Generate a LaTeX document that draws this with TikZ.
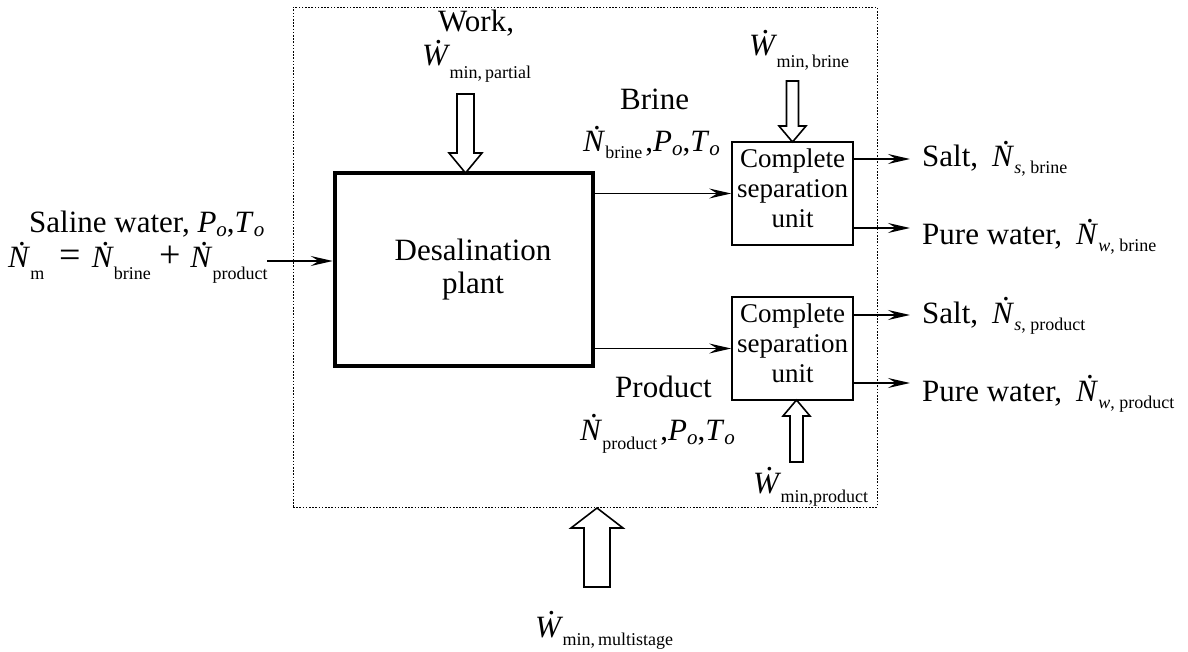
\documentclass[tikz,border=0pt]{standalone}
\usepackage{fontspec}
\setmainfont{Liberation Serif}
\usetikzlibrary{arrows.meta}
\newcommand{\ovd}[1]{{\setbox0\hbox{\itshape #1}\hbox{\rlap{\hbox to \wd0{\hss\hskip0.22em\raisebox{0.72em}{\upshape.}\hss}}\box0}}}
\newcommand{\sbs}[2][11pt]{\hskip1.5pt\raisebox{-#1}{\fontsize{18}{18}\selectfont #2}}
\newcommand{\sbo}{\raisebox{-4pt}{\fontsize{21}{21}\selectfont\itshape o}}
\newcommand{\bigop}[1]{{\fontsize{38}{38}\selectfont #1}}
\begin{document}
\begin{tikzpicture}[x=1pt,y=-1pt,
  font=\fontsize{31}{33}\selectfont,
  flow/.style={line width=1.7pt,-{Stealth[length=22pt,width=10pt,inset=8pt]}},
  blockarr/.style={draw,line width=1.6pt,fill=white,line join=miter},
  sepbox/.style={draw,line width=1.7pt,minimum width=121pt,minimum height=103pt,align=center,inner sep=0pt,font=\fontsize{27}{30}\selectfont},
  lbl/.style={anchor=base west,inner sep=0pt}]
\useasboundingbox (0,0) rectangle (1188,652);
% system boundary
\node[draw,line width=0.8pt,dash pattern=on 1.6pt off 1.6pt,minimum width=584pt,minimum height=500pt,inner sep=0pt] (sys) at (585,257) {};
% plant
\node[draw,line width=4.5pt,minimum width=258pt,minimum height=193pt,align=center] (plant) at (464,269.5) {\hspace*{18pt}Desalination\\\hspace*{18pt}plant};
% separation units
\node[sepbox] (sep1) at (792.5,193.5) {Complete\\separation\\unit\rule[-11pt]{0pt}{0pt}};
\node[sepbox] (sep2) at (792.5,348.5) {Complete\\separation\\unit\rule[-11pt]{0pt}{0pt}};
% flows
\coordinate (in) at (267,261);
\draw[flow] (in) -- (in -| plant.west);
\draw[flow] (plant.east |- sep1.west) -- (sep1.west);
\draw[flow] (plant.east |- sep2.west) -- (sep2.west);
\coordinate (o1) at (910,159);
\coordinate (o2) at (910,228);
\coordinate (o3) at (910,315);
\coordinate (o4) at (910,383);
\draw[flow] (sep1.east |- o1) -- (o1);
\draw[flow] (sep1.east |- o2) -- (o2);
\draw[flow] (sep2.east |- o3) -- (o3);
\draw[flow] (sep2.east |- o4) -- (o4);
% block arrows
\draw[blockarr] (457,94) -- (474,94) -- (474,153) -- (482,153) -- (465.5,173) -- (449,153) -- (457,153) -- cycle;
\draw[blockarr] (786.5,81) -- (798.5,81) -- (798.5,126) -- (806,126) -- (792.5,142) -- (779,126) -- (786.5,126) -- cycle;
\draw[blockarr] (790,462) -- (803,462) -- (803,416) -- (810,416) -- (796.5,400) -- (783,416) -- (790,416) -- cycle;
\draw[blockarr] (584,587) -- (610,587) -- (610,528) -- (623,528) -- (597,508) -- (571,528) -- (584,528) -- cycle;
% labels
\node[lbl] (t1) at (29,233) {Saline water, \textit{P}\sbo,\textit{T}\sbo};
\node[lbl] (t2) at (8,268) {\ovd{N}\sbs[12pt]{m}\hskip15pt\bigop{=}\hskip11pt\ovd{N}\sbs[12pt]{brine}\hskip9pt\bigop{+}\hskip9pt\ovd{N}\sbs[12pt]{product}};
\node[lbl] (t3) at (438,32) {Work,};
\node[lbl] (t4) at (422,66) {\ovd{W}\sbs[13pt]{min,\,partial}};
\node[lbl] (t5) at (749,56) {\ovd{W}\sbs[12pt]{min,\,brine}};
\node[lbl] (t6) at (620,110) {Brine};
\node[lbl] (t7) at (583,152) {\ovd{N}\sbs[7pt]{brine}\hskip3pt,\textit{P}\sbo,\textit{T}\sbo};
\node[lbl] (t8) at (615,397) {Product};
\node[lbl] (t9) at (580,440) {\ovd{N}\sbs[9pt]{product}\hskip3pt,\textit{P}\sbo,\textit{T}\sbo};
\node[lbl] (t10) at (753,493) {\ovd{W}\sbs[9pt]{min,product}};
\node[lbl] (t11) at (922,167) {Salt,\hskip14pt\ovd{N}\sbs[7pt]{\textit{s}, brine}};
\node[lbl] (t12) at (922,245) {Pure water,\hskip14pt\ovd{N}\sbs[7pt]{\textit{w}, brine}};
\node[lbl] (t13) at (922,323) {Salt,\hskip14pt\ovd{N}\sbs[7pt]{\textit{s}, product}};
\node[lbl] (t14) at (922,401) {Pure water,\hskip14pt\ovd{N}\sbs[7pt]{\textit{w}, product}};
\node[lbl] (t15) at (535,637) {\ovd{W}\sbs[8pt]{min,\,multistage}};
\end{tikzpicture}
\end{document}
